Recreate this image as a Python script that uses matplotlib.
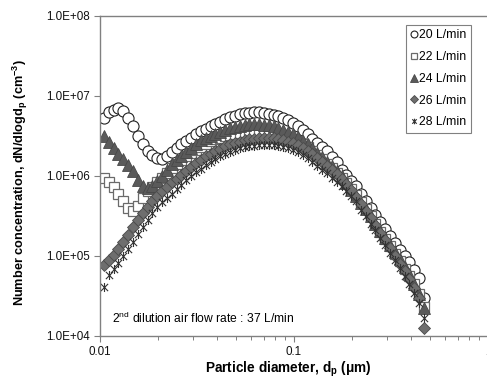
import matplotlib
matplotlib.use('Agg')
import matplotlib.pyplot as plt
from matplotlib.path import Path
from matplotlib.ticker import FixedLocator, FixedFormatter, NullFormatter

plt.rcParams['font.family'] = ['Liberation Sans', 'DejaVu Sans']
plt.rcParams['mathtext.fontset'] = 'custom'
plt.rcParams['mathtext.rm'] = 'Liberation Sans'
plt.rcParams['mathtext.bf'] = 'Liberation Sans:bold'
plt.rcParams['mathtext.it'] = 'Liberation Sans:italic'
plt.rcParams['mathtext.default'] = 'regular'

# Particle diameter (um)
diameter = [0.01047, 0.01109, 0.01175, 0.01245, 0.01318, 0.01396, 0.01479, 0.01567, 0.01660, 0.01758,
            0.01862, 0.01972, 0.02089, 0.02213, 0.02344, 0.02483, 0.02630, 0.02786, 0.02951, 0.03126,
            0.03311, 0.03508, 0.03715, 0.03936, 0.04169, 0.04416, 0.04677, 0.04955, 0.05248, 0.05559,
            0.05888, 0.06237, 0.06607, 0.06998, 0.07413, 0.07852, 0.08318, 0.08810, 0.09333, 0.09886,
            0.1047, 0.1109, 0.1175, 0.1245, 0.1318, 0.1396, 0.1479, 0.1567, 0.1660, 0.1758,
            0.1862, 0.1972, 0.2089, 0.2213, 0.2344, 0.2483, 0.2630, 0.2786, 0.2951, 0.3126,
            0.3311, 0.3508, 0.3715, 0.3936, 0.4169, 0.4416, 0.4677]

conc_20 = [5.31e6, 6.31e6, 6.76e6, 7.08e6, 6.46e6, 5.37e6, 4.27e6, 3.16e6, 2.51e6, 2.04e6,
           1.82e6, 1.68e6, 1.64e6, 1.78e6, 2.00e6, 2.24e6, 2.51e6, 2.75e6, 3.02e6, 3.31e6,
           3.63e6, 3.89e6, 4.17e6, 4.52e6, 4.79e6, 5.13e6, 5.50e6, 5.69e6, 5.89e6, 6.10e6,
           6.17e6, 6.24e6, 6.31e6, 6.17e6, 6.03e6, 5.82e6, 5.56e6, 5.25e6, 5.01e6, 4.57e6,
           4.17e6, 3.76e6, 3.31e6, 2.88e6, 2.60e6, 2.32e6, 2.04e6, 1.74e6, 1.51e6, 1.20e6,
           1.02e6, 8.61e5, 7.41e5, 6.03e5, 4.90e5, 3.98e5, 3.24e5, 2.63e5, 2.19e5, 1.78e5,
           1.45e5, 1.20e5, 1.00e5, 8.32e4, 6.61e4, 5.25e4, 3.02e4]

conc_22 = [9.44e5, 8.32e5, 7.24e5, 6.03e5, 4.90e5, 3.98e5, 3.63e5, 4.27e5, 5.37e5, 6.46e5,
           7.33e5, 8.32e5, 9.44e5, 1.10e6, 1.25e6, 1.41e6, 1.59e6, 1.76e6, 1.93e6, 2.14e6,
           2.32e6, 2.51e6, 2.72e6, 2.88e6, 3.02e6, 3.16e6, 3.27e6, 3.39e6, 3.47e6, 3.51e6,
           3.55e6, 3.59e6, 3.59e6, 3.55e6, 3.51e6, 3.43e6, 3.35e6, 3.24e6, 3.09e6, 2.88e6,
           2.72e6, 2.51e6, 2.29e6, 2.04e6, 1.82e6, 1.62e6, 1.43e6, 1.26e6, 1.10e6, 9.44e5,
           8.13e5, 6.84e5, 5.75e5, 4.68e5, 3.89e5, 3.16e5, 2.51e5, 2.02e5, 1.62e5, 1.32e5,
           1.07e5, 8.71e4, 6.92e4, 5.62e4, 4.47e4, 3.31e4, 2.29e4]

conc_24 = [3.16e6, 2.63e6, 2.24e6, 1.91e6, 1.64e6, 1.38e6, 1.14e6, 8.91e5, 7.59e5, 7.00e5,
           7.41e5, 8.71e5, 1.01e6, 1.20e6, 1.40e6, 1.59e6, 1.80e6, 2.02e6, 2.24e6, 2.51e6,
           2.79e6, 2.99e6, 3.16e6, 3.31e6, 3.51e6, 3.72e6, 3.94e6, 4.12e6, 4.27e6, 4.37e6,
           4.47e6, 4.47e6, 4.42e6, 4.37e6, 4.32e6, 4.17e6, 3.98e6, 3.80e6, 3.59e6, 3.31e6,
           3.06e6, 2.75e6, 2.48e6, 2.21e6, 1.95e6, 1.72e6, 1.51e6, 1.32e6, 1.15e6, 9.89e5,
           8.22e5, 6.76e5, 5.62e5, 4.62e5, 3.85e5, 3.13e5, 2.54e5, 2.07e5, 1.70e5, 1.38e5,
           1.12e5, 9.12e4, 7.33e4, 5.89e4, 4.47e4, 3.39e4, 2.24e4]

conc_26 = [7.76e4, 8.91e4, 1.02e5, 1.23e5, 1.48e5, 1.84e5, 2.29e5, 2.82e5, 3.43e5, 4.07e5,
           4.84e5, 5.69e5, 6.46e5, 7.33e5, 8.32e5, 9.23e5, 1.04e6, 1.16e6, 1.30e6, 1.46e6,
           1.60e6, 1.76e6, 1.91e6, 2.07e6, 2.19e6, 2.34e6, 2.48e6, 2.60e6, 2.69e6, 2.79e6,
           2.88e6, 2.92e6, 2.95e6, 2.99e6, 2.99e6, 2.95e6, 2.88e6, 2.82e6, 2.69e6, 2.57e6,
           2.43e6, 2.24e6, 2.07e6, 1.88e6, 1.68e6, 1.50e6, 1.35e6, 1.20e6, 1.05e6, 9.23e5,
           7.94e5, 6.68e5, 5.50e5, 4.42e5, 3.63e5, 2.95e5, 2.45e5, 1.95e5, 1.59e5, 1.26e5,
           1.00e5, 7.94e4, 6.46e4, 5.13e4, 3.98e4, 2.95e4, 1.26e4]

conc_28 = [4.07e4, 5.75e4, 6.92e4, 8.13e4, 1.00e5, 1.23e5, 1.51e5, 1.86e5, 2.29e5, 2.85e5,
           3.43e5, 4.07e5, 4.73e5, 5.31e5, 6.03e5, 6.84e5, 7.76e5, 8.81e5, 9.89e5, 1.12e6,
           1.24e6, 1.36e6, 1.51e6, 1.64e6, 1.76e6, 1.88e6, 2.02e6, 2.14e6, 2.21e6, 2.29e6,
           2.37e6, 2.40e6, 2.43e6, 2.45e6, 2.45e6, 2.43e6, 2.37e6, 2.32e6, 2.21e6, 2.09e6,
           1.97e6, 1.82e6, 1.66e6, 1.50e6, 1.35e6, 1.20e6, 1.08e6, 9.55e5, 8.51e5, 7.50e5,
           6.53e5, 5.62e5, 4.84e5, 3.80e5, 3.16e5, 2.51e5, 2.14e5, 1.70e5, 1.38e5, 1.10e5,
           8.91e4, 7.08e4, 5.62e4, 4.52e4, 3.47e4, 2.57e4, 1.66e4]

labels = ['20 L/min', '22 L/min', '24 L/min', '26 L/min', '28 L/min']
x_ticks = [0.01, 0.1, 1]
x_tick_labels = ['0.01', '0.1', '1']
y_ticks = [1e4, 1e5, 1e6, 1e7, 1e8]

W, H = 487, 381
fig = plt.figure(figsize=(W / 100, H / 100), dpi=100)
ax = fig.add_axes([100 / W, 45 / H, 388 / W, 320 / H])

star = Path([(-1, -1), (1, 1), (-1, 1), (1, -1), (0, -1.25), (0, 1.25)],
            [Path.MOVETO, Path.LINETO, Path.MOVETO, Path.LINETO, Path.MOVETO, Path.LINETO])

series = [conc_20, conc_22, conc_24, conc_26, conc_28]
styles = [
    dict(marker='o', ms=8.0, mfc='white', mec='#222222', mew=0.8),
    dict(marker='s', ms=6.6, mfc='white', mec='#6a6a6a', mew=0.9),
    dict(marker='^', ms=8.2, mfc='#5a5a5a', mec='#484848', mew=0.6),
    dict(marker='D', ms=6.3, mfc='#6e6e6e', mec='#4a4a4a', mew=0.6),
    dict(marker=star, ms=6.5, mfc='none', mec='#333333', mew=0.8),
]
handles = []
for vals, lab, st in zip(series, labels, styles):
    h, = ax.plot(diameter, vals, linestyle='none', label=lab, **st)
    handles.append(h)

ax.set_xscale('log')
ax.set_yscale('log')
ax.set_xlim(0.01, 1)
ax.set_ylim(1e4, 1e8)

ax.xaxis.set_major_locator(FixedLocator(x_ticks))
ax.xaxis.set_major_formatter(FixedFormatter(x_tick_labels))
ax.xaxis.set_minor_locator(FixedLocator([m * d for d in (0.01, 0.1) for m in range(2, 10)]))
ax.xaxis.set_minor_formatter(NullFormatter())
ax.yaxis.set_major_locator(FixedLocator(y_ticks))
ax.yaxis.set_major_formatter(plt.FuncFormatter(lambda v, p: f"{v:.1E}"))
ax.yaxis.set_minor_locator(FixedLocator([]))

for sp in ax.spines.values():
    sp.set_color('#808080')
    sp.set_linewidth(1.0)
ax.tick_params(axis='both', which='major', direction='out', length=4, width=0.8,
               color='#808080', labelsize=8.4, labelcolor='#111111')
ax.tick_params(axis='x', which='minor', direction='out', length=3, width=0.7, color='#808080')
ax.tick_params(axis='y', which='major', pad=3)
ax.tick_params(axis='x', which='major', pad=3)

fig.text(20 / W, 1 - 183 / H,
         r'Number concentration, dN/dlogd$\mathbf{_p}$ (cm$\mathbf{^{-3}}$)',
         rotation=90, ha='center', va='center', fontsize=9.2, fontweight='bold')
fig.text(288 / W, 1 - 369 / H, r'Particle diameter, d$\mathbf{_p}$ ($\mathbf{\mu}$m)',
         ha='center', va='center', fontsize=9.8, fontweight='bold')
fig.text(112 / W, 1 - 318 / H, r'2$^{nd}$ dilution air flow rate : 37 L/min',
         ha='left', va='center', fontsize=8.7)

leg = fig.legend(handles=handles, labels=labels, loc='upper right',
                 bbox_to_anchor=(471 / W, 1 - 25 / H), fontsize=8.8, frameon=True,
                 fancybox=False, edgecolor='#808080', framealpha=1, markerscale=0.62,
                 handlelength=0.6, handletextpad=0.15, labelspacing=0.8, borderpad=0.35,
                 borderaxespad=0)
leg.get_frame().set_linewidth(0.8)

fig.savefig('out.png', dpi=100, facecolor='white')
